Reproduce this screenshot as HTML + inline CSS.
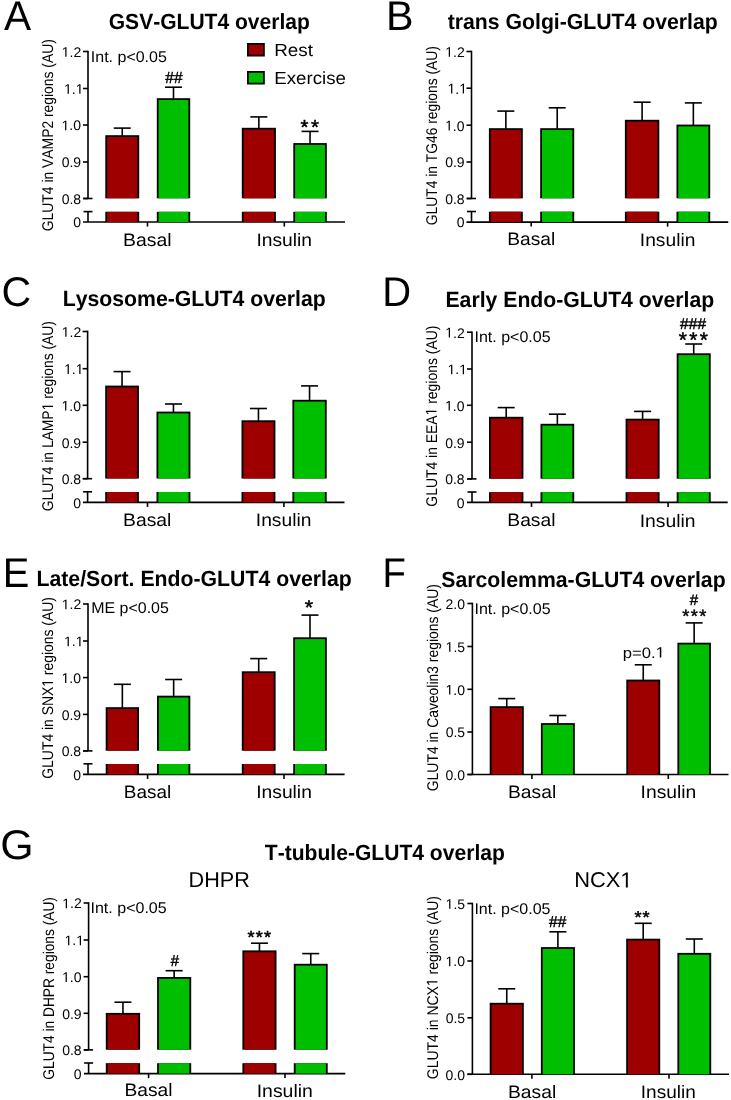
<!DOCTYPE html>
<html><head><meta charset="utf-8"><style>
html,body{margin:0;padding:0;background:#fff;}
svg{display:block;font-family:"Liberation Sans", sans-serif;will-change:transform;font-kerning:none;text-rendering:geometricPrecision;}
</style></head><body>
<svg width="731" height="1100" viewBox="0 0 731 1100">
<rect width="731" height="1100" fill="#fff"/>
<text x="3.92" y="30.00" font-size="41.5" textLength="27.16" lengthAdjust="spacingAndGlyphs">A</text>
<text x="108.74" y="28.90" font-size="22" font-weight="bold" textLength="201.13" lengthAdjust="spacingAndGlyphs">GSV-GLUT4 overlap</text>
<rect x="247.00" y="43.00" width="17.80" height="13.50" fill="#000"/>
<rect x="248.80" y="44.80" width="14.20" height="9.90" fill="#9e0000"/>
<rect x="247.00" y="71.00" width="17.80" height="13.50" fill="#000"/>
<rect x="248.80" y="72.80" width="14.20" height="9.90" fill="#00bf00"/>
<text x="274.25" y="55.80" font-size="17.5" textLength="38.79" lengthAdjust="spacingAndGlyphs">Rest</text>
<text x="274.27" y="84.10" font-size="17.5" textLength="71.66" lengthAdjust="spacingAndGlyphs">Exercise</text>
<g transform="translate(53.00,230.50) rotate(-90)">
<text x="-0.70" y="0.00" font-size="15.5" textLength="192.06" lengthAdjust="spacingAndGlyphs">GLUT4 in VAMP2 regions (AU)</text>
</g>
<line x1="88.00" y1="50.70" x2="88.00" y2="198.50" stroke="#000" stroke-width="1.6"/>
<line x1="83.00" y1="51.50" x2="88.00" y2="51.50" stroke="#000" stroke-width="1.6"/>
<text x="61.74" y="56.80" font-size="14" textLength="19.46" lengthAdjust="spacingAndGlyphs"> .2</text>
<path transform="translate(61.74,56.80) scale(0.00684,-0.00684)" d="M515,0L515,1237L197,1010L197,1180L530,1409L696,1409L696,0Z"/>
<line x1="83.00" y1="88.50" x2="88.00" y2="88.50" stroke="#000" stroke-width="1.6"/>
<text x="64.07" y="93.80" font-size="14" textLength="19.46" lengthAdjust="spacingAndGlyphs"> . </text>
<path transform="translate(64.07,93.80) scale(0.00684,-0.00684)" d="M515,0L515,1237L197,1010L197,1180L530,1409L696,1409L696,0Z"/>
<path transform="translate(75.74,93.80) scale(0.00684,-0.00684)" d="M515,0L515,1237L197,1010L197,1180L530,1409L696,1409L696,0Z"/>
<line x1="83.00" y1="125.00" x2="88.00" y2="125.00" stroke="#000" stroke-width="1.6"/>
<text x="61.58" y="130.30" font-size="14" textLength="19.46" lengthAdjust="spacingAndGlyphs"> .0</text>
<path transform="translate(61.58,130.30) scale(0.00684,-0.00684)" d="M515,0L515,1237L197,1010L197,1180L530,1409L696,1409L696,0Z"/>
<line x1="83.00" y1="162.00" x2="88.00" y2="162.00" stroke="#000" stroke-width="1.6"/>
<text x="61.70" y="167.30" font-size="14" textLength="19.46" lengthAdjust="spacingAndGlyphs">0.9</text>
<line x1="83.00" y1="198.50" x2="88.00" y2="198.50" stroke="#000" stroke-width="1.6"/>
<text x="61.65" y="203.80" font-size="14" textLength="19.46" lengthAdjust="spacingAndGlyphs">0.8</text>
<line x1="83.50" y1="198.50" x2="92.50" y2="198.50" stroke="#000" stroke-width="1.6"/>
<line x1="83.50" y1="211.60" x2="92.50" y2="211.60" stroke="#000" stroke-width="1.6"/>
<line x1="88.00" y1="211.60" x2="88.00" y2="222.00" stroke="#000" stroke-width="1.6"/>
<text x="73.26" y="227.30" font-size="14" textLength="7.79" lengthAdjust="spacingAndGlyphs">0</text>
<line x1="83.00" y1="222.00" x2="345.00" y2="222.00" stroke="#000" stroke-width="1.6"/>
<line x1="147.50" y1="222.00" x2="147.50" y2="226.50" stroke="#000" stroke-width="1.6"/>
<line x1="284.30" y1="222.00" x2="284.30" y2="226.50" stroke="#000" stroke-width="1.6"/>
<rect x="105.30" y="135.20" width="33.90" height="63.10" fill="#000"/>
<rect x="107.10" y="137.00" width="30.30" height="61.30" fill="#9e0000"/>
<rect x="105.30" y="211.80" width="33.90" height="10.20" fill="#000"/>
<rect x="107.10" y="211.80" width="30.30" height="10.20" fill="#9e0000"/>
<line x1="122.25" y1="135.70" x2="122.25" y2="128.10" stroke="#000" stroke-width="1.6"/>
<line x1="113.75" y1="128.10" x2="130.75" y2="128.10" stroke="#000" stroke-width="1.6"/>
<rect x="156.80" y="98.20" width="33.40" height="100.10" fill="#000"/>
<rect x="158.60" y="100.00" width="29.80" height="98.30" fill="#00bf00"/>
<rect x="156.80" y="211.80" width="33.40" height="10.20" fill="#000"/>
<rect x="158.60" y="211.80" width="29.80" height="10.20" fill="#00bf00"/>
<line x1="173.50" y1="98.70" x2="173.50" y2="87.20" stroke="#000" stroke-width="1.6"/>
<line x1="165.00" y1="87.20" x2="182.00" y2="87.20" stroke="#000" stroke-width="1.6"/>
<rect x="241.80" y="127.80" width="34.10" height="70.50" fill="#000"/>
<rect x="243.60" y="129.60" width="30.50" height="68.70" fill="#9e0000"/>
<rect x="241.80" y="211.80" width="34.10" height="10.20" fill="#000"/>
<rect x="243.60" y="211.80" width="30.50" height="10.20" fill="#9e0000"/>
<line x1="258.85" y1="128.30" x2="258.85" y2="116.90" stroke="#000" stroke-width="1.6"/>
<line x1="250.35" y1="116.90" x2="267.35" y2="116.90" stroke="#000" stroke-width="1.6"/>
<rect x="293.30" y="143.10" width="33.50" height="55.20" fill="#000"/>
<rect x="295.10" y="144.90" width="29.90" height="53.40" fill="#00bf00"/>
<rect x="293.30" y="211.80" width="33.50" height="10.20" fill="#000"/>
<rect x="295.10" y="211.80" width="29.90" height="10.20" fill="#00bf00"/>
<line x1="310.05" y1="143.60" x2="310.05" y2="131.40" stroke="#000" stroke-width="1.6"/>
<line x1="301.55" y1="131.40" x2="318.55" y2="131.40" stroke="#000" stroke-width="1.6"/>
<text x="123.11" y="245.50" font-size="18" textLength="48.49" lengthAdjust="spacingAndGlyphs">Basal</text>
<text x="256.42" y="245.80" font-size="18" textLength="55.63" lengthAdjust="spacingAndGlyphs">Insulin</text>
<text x="90.82" y="62.20" font-size="15.5" textLength="76.05" lengthAdjust="spacingAndGlyphs">Int. p&lt;0.05</text>
<text x="165.31" y="83.28" font-size="16.01" stroke="#000" stroke-width="0.45" textLength="8.59" lengthAdjust="spacingAndGlyphs">#</text>
<text x="174.11" y="83.28" font-size="16.01" stroke="#000" stroke-width="0.45" textLength="8.59" lengthAdjust="spacingAndGlyphs">#</text>
<text x="300.47" y="133.66" font-size="20.22" stroke="#000" stroke-width="0.5" textLength="7.95" lengthAdjust="spacingAndGlyphs">*</text>
<text x="310.97" y="133.66" font-size="20.22" stroke="#000" stroke-width="0.5" textLength="7.95" lengthAdjust="spacingAndGlyphs">*</text>
<text x="386.11" y="30.00" font-size="41.5" textLength="27.57" lengthAdjust="spacingAndGlyphs">B</text>
<text x="447.74" y="29.20" font-size="22" font-weight="bold" textLength="270.03" lengthAdjust="spacingAndGlyphs">trans Golgi-GLUT4 overlap</text>
<g transform="translate(436.80,224.50) rotate(-90)">
<text x="-0.70" y="0.00" font-size="15.5" textLength="179.05" lengthAdjust="spacingAndGlyphs">GLUT4 in TG46 regions (AU)</text>
</g>
<line x1="471.50" y1="50.70" x2="471.50" y2="198.50" stroke="#000" stroke-width="1.6"/>
<line x1="466.50" y1="51.50" x2="471.50" y2="51.50" stroke="#000" stroke-width="1.6"/>
<text x="445.24" y="56.80" font-size="14" textLength="19.46" lengthAdjust="spacingAndGlyphs"> .2</text>
<path transform="translate(445.24,56.80) scale(0.00684,-0.00684)" d="M515,0L515,1237L197,1010L197,1180L530,1409L696,1409L696,0Z"/>
<line x1="466.50" y1="88.20" x2="471.50" y2="88.20" stroke="#000" stroke-width="1.6"/>
<text x="447.57" y="93.50" font-size="14" textLength="19.46" lengthAdjust="spacingAndGlyphs"> . </text>
<path transform="translate(447.57,93.50) scale(0.00684,-0.00684)" d="M515,0L515,1237L197,1010L197,1180L530,1409L696,1409L696,0Z"/>
<path transform="translate(459.24,93.50) scale(0.00684,-0.00684)" d="M515,0L515,1237L197,1010L197,1180L530,1409L696,1409L696,0Z"/>
<line x1="466.50" y1="125.20" x2="471.50" y2="125.20" stroke="#000" stroke-width="1.6"/>
<text x="445.08" y="130.50" font-size="14" textLength="19.46" lengthAdjust="spacingAndGlyphs"> .0</text>
<path transform="translate(445.08,130.50) scale(0.00684,-0.00684)" d="M515,0L515,1237L197,1010L197,1180L530,1409L696,1409L696,0Z"/>
<line x1="466.50" y1="162.00" x2="471.50" y2="162.00" stroke="#000" stroke-width="1.6"/>
<text x="445.20" y="167.30" font-size="14" textLength="19.46" lengthAdjust="spacingAndGlyphs">0.9</text>
<line x1="466.50" y1="198.50" x2="471.50" y2="198.50" stroke="#000" stroke-width="1.6"/>
<text x="445.15" y="203.80" font-size="14" textLength="19.46" lengthAdjust="spacingAndGlyphs">0.8</text>
<line x1="467.00" y1="198.50" x2="476.00" y2="198.50" stroke="#000" stroke-width="1.6"/>
<line x1="467.00" y1="211.50" x2="476.00" y2="211.50" stroke="#000" stroke-width="1.6"/>
<line x1="471.50" y1="211.50" x2="471.50" y2="222.10" stroke="#000" stroke-width="1.6"/>
<text x="456.76" y="227.40" font-size="14" textLength="7.79" lengthAdjust="spacingAndGlyphs">0</text>
<line x1="466.50" y1="222.10" x2="728.30" y2="222.10" stroke="#000" stroke-width="1.6"/>
<line x1="531.20" y1="222.10" x2="531.20" y2="226.60" stroke="#000" stroke-width="1.6"/>
<line x1="667.60" y1="222.10" x2="667.60" y2="226.60" stroke="#000" stroke-width="1.6"/>
<rect x="488.90" y="128.20" width="33.90" height="70.10" fill="#000"/>
<rect x="490.70" y="130.00" width="30.30" height="68.30" fill="#9e0000"/>
<rect x="488.90" y="211.70" width="33.90" height="10.40" fill="#000"/>
<rect x="490.70" y="211.70" width="30.30" height="10.40" fill="#9e0000"/>
<line x1="505.85" y1="128.70" x2="505.85" y2="111.10" stroke="#000" stroke-width="1.6"/>
<line x1="497.35" y1="111.10" x2="514.35" y2="111.10" stroke="#000" stroke-width="1.6"/>
<rect x="540.20" y="128.20" width="34.00" height="70.10" fill="#000"/>
<rect x="542.00" y="130.00" width="30.40" height="68.30" fill="#00bf00"/>
<rect x="540.20" y="211.70" width="34.00" height="10.40" fill="#000"/>
<rect x="542.00" y="211.70" width="30.40" height="10.40" fill="#00bf00"/>
<line x1="557.20" y1="128.70" x2="557.20" y2="107.80" stroke="#000" stroke-width="1.6"/>
<line x1="548.70" y1="107.80" x2="565.70" y2="107.80" stroke="#000" stroke-width="1.6"/>
<rect x="624.90" y="119.80" width="34.40" height="78.50" fill="#000"/>
<rect x="626.70" y="121.60" width="30.80" height="76.70" fill="#9e0000"/>
<rect x="624.90" y="211.70" width="34.40" height="10.40" fill="#000"/>
<rect x="626.70" y="211.70" width="30.80" height="10.40" fill="#9e0000"/>
<line x1="642.10" y1="120.30" x2="642.10" y2="102.20" stroke="#000" stroke-width="1.6"/>
<line x1="633.60" y1="102.20" x2="650.60" y2="102.20" stroke="#000" stroke-width="1.6"/>
<rect x="676.50" y="124.60" width="33.70" height="73.70" fill="#000"/>
<rect x="678.30" y="126.40" width="30.10" height="71.90" fill="#00bf00"/>
<rect x="676.50" y="211.70" width="33.70" height="10.40" fill="#000"/>
<rect x="678.30" y="211.70" width="30.10" height="10.40" fill="#00bf00"/>
<line x1="693.35" y1="125.10" x2="693.35" y2="102.90" stroke="#000" stroke-width="1.6"/>
<line x1="684.85" y1="102.90" x2="701.85" y2="102.90" stroke="#000" stroke-width="1.6"/>
<text x="507.23" y="245.30" font-size="18" textLength="47.96" lengthAdjust="spacingAndGlyphs">Basal</text>
<text x="639.83" y="246.10" font-size="18" textLength="55.52" lengthAdjust="spacingAndGlyphs">Insulin</text>
<text x="1.52" y="306.00" font-size="41.5" textLength="29.65" lengthAdjust="spacingAndGlyphs">C</text>
<text x="62.78" y="306.40" font-size="22" font-weight="bold" textLength="262.99" lengthAdjust="spacingAndGlyphs">Lysosome-GLUT4 overlap</text>
<g transform="translate(53.00,510.50) rotate(-90)">
<text x="-0.70" y="0.00" font-size="15.5" textLength="190.05" lengthAdjust="spacingAndGlyphs">GLUT4 in LAMP  regions (AU)</text>
<path transform="translate(100.10,0.00) scale(0.00676,-0.00757)" d="M515,0L515,1237L197,1010L197,1180L530,1409L696,1409L696,0Z"/>
</g>
<line x1="87.60" y1="330.70" x2="87.60" y2="478.70" stroke="#000" stroke-width="1.6"/>
<line x1="82.60" y1="331.50" x2="87.60" y2="331.50" stroke="#000" stroke-width="1.6"/>
<text x="61.74" y="336.80" font-size="14" textLength="19.46" lengthAdjust="spacingAndGlyphs"> .2</text>
<path transform="translate(61.74,336.80) scale(0.00684,-0.00684)" d="M515,0L515,1237L197,1010L197,1180L530,1409L696,1409L696,0Z"/>
<line x1="82.60" y1="368.70" x2="87.60" y2="368.70" stroke="#000" stroke-width="1.6"/>
<text x="64.07" y="374.00" font-size="14" textLength="19.46" lengthAdjust="spacingAndGlyphs"> . </text>
<path transform="translate(64.07,374.00) scale(0.00684,-0.00684)" d="M515,0L515,1237L197,1010L197,1180L530,1409L696,1409L696,0Z"/>
<path transform="translate(75.74,374.00) scale(0.00684,-0.00684)" d="M515,0L515,1237L197,1010L197,1180L530,1409L696,1409L696,0Z"/>
<line x1="82.60" y1="405.30" x2="87.60" y2="405.30" stroke="#000" stroke-width="1.6"/>
<text x="61.58" y="410.60" font-size="14" textLength="19.46" lengthAdjust="spacingAndGlyphs"> .0</text>
<path transform="translate(61.58,410.60) scale(0.00684,-0.00684)" d="M515,0L515,1237L197,1010L197,1180L530,1409L696,1409L696,0Z"/>
<line x1="82.60" y1="442.20" x2="87.60" y2="442.20" stroke="#000" stroke-width="1.6"/>
<text x="61.70" y="447.50" font-size="14" textLength="19.46" lengthAdjust="spacingAndGlyphs">0.9</text>
<line x1="82.60" y1="478.70" x2="87.60" y2="478.70" stroke="#000" stroke-width="1.6"/>
<text x="61.65" y="484.00" font-size="14" textLength="19.46" lengthAdjust="spacingAndGlyphs">0.8</text>
<line x1="83.10" y1="478.70" x2="92.10" y2="478.70" stroke="#000" stroke-width="1.6"/>
<line x1="83.10" y1="491.80" x2="92.10" y2="491.80" stroke="#000" stroke-width="1.6"/>
<line x1="87.60" y1="491.80" x2="87.60" y2="502.40" stroke="#000" stroke-width="1.6"/>
<text x="73.26" y="507.70" font-size="14" textLength="7.79" lengthAdjust="spacingAndGlyphs">0</text>
<line x1="83.00" y1="502.40" x2="344.50" y2="502.40" stroke="#000" stroke-width="1.6"/>
<line x1="147.50" y1="502.40" x2="147.50" y2="506.90" stroke="#000" stroke-width="1.6"/>
<line x1="283.90" y1="502.40" x2="283.90" y2="506.90" stroke="#000" stroke-width="1.6"/>
<rect x="105.20" y="385.60" width="33.70" height="92.90" fill="#000"/>
<rect x="107.00" y="387.40" width="30.10" height="91.10" fill="#9e0000"/>
<rect x="105.20" y="492.00" width="33.70" height="10.40" fill="#000"/>
<rect x="107.00" y="492.00" width="30.10" height="10.40" fill="#9e0000"/>
<line x1="122.05" y1="386.10" x2="122.05" y2="371.60" stroke="#000" stroke-width="1.6"/>
<line x1="113.55" y1="371.60" x2="130.55" y2="371.60" stroke="#000" stroke-width="1.6"/>
<rect x="156.50" y="411.60" width="33.90" height="66.90" fill="#000"/>
<rect x="158.30" y="413.40" width="30.30" height="65.10" fill="#00bf00"/>
<rect x="156.50" y="492.00" width="33.90" height="10.40" fill="#000"/>
<rect x="158.30" y="492.00" width="30.30" height="10.40" fill="#00bf00"/>
<line x1="173.45" y1="412.10" x2="173.45" y2="404.00" stroke="#000" stroke-width="1.6"/>
<line x1="164.95" y1="404.00" x2="181.95" y2="404.00" stroke="#000" stroke-width="1.6"/>
<rect x="241.50" y="420.30" width="33.90" height="58.20" fill="#000"/>
<rect x="243.30" y="422.10" width="30.30" height="56.40" fill="#9e0000"/>
<rect x="241.50" y="492.00" width="33.90" height="10.40" fill="#000"/>
<rect x="243.30" y="492.00" width="30.30" height="10.40" fill="#9e0000"/>
<line x1="258.45" y1="420.80" x2="258.45" y2="408.50" stroke="#000" stroke-width="1.6"/>
<line x1="249.95" y1="408.50" x2="266.95" y2="408.50" stroke="#000" stroke-width="1.6"/>
<rect x="292.40" y="399.80" width="34.30" height="78.70" fill="#000"/>
<rect x="294.20" y="401.60" width="30.70" height="76.90" fill="#00bf00"/>
<rect x="292.40" y="492.00" width="34.30" height="10.40" fill="#000"/>
<rect x="294.20" y="492.00" width="30.70" height="10.40" fill="#00bf00"/>
<line x1="309.55" y1="400.30" x2="309.55" y2="385.90" stroke="#000" stroke-width="1.6"/>
<line x1="301.05" y1="385.90" x2="318.05" y2="385.90" stroke="#000" stroke-width="1.6"/>
<text x="123.12" y="526.00" font-size="18" textLength="48.27" lengthAdjust="spacingAndGlyphs">Basal</text>
<text x="255.82" y="526.20" font-size="18" textLength="55.63" lengthAdjust="spacingAndGlyphs">Insulin</text>
<text x="382.32" y="306.30" font-size="41.5" textLength="28.90" lengthAdjust="spacingAndGlyphs">D</text>
<text x="445.48" y="306.70" font-size="22" font-weight="bold" textLength="268.79" lengthAdjust="spacingAndGlyphs">Early Endo-GLUT4 overlap</text>
<g transform="translate(436.50,506.00) rotate(-90)">
<text x="-0.70" y="0.00" font-size="15.5" textLength="181.06" lengthAdjust="spacingAndGlyphs">GLUT4 in EEA  regions (AU)</text>
<path transform="translate(90.61,0.00) scale(0.00680,-0.00757)" d="M515,0L515,1237L197,1010L197,1180L530,1409L696,1409L696,0Z"/>
</g>
<line x1="472.00" y1="331.40" x2="472.00" y2="478.90" stroke="#000" stroke-width="1.6"/>
<line x1="467.00" y1="332.20" x2="472.00" y2="332.20" stroke="#000" stroke-width="1.6"/>
<text x="445.24" y="337.50" font-size="14" textLength="19.46" lengthAdjust="spacingAndGlyphs"> .2</text>
<path transform="translate(445.24,337.50) scale(0.00684,-0.00684)" d="M515,0L515,1237L197,1010L197,1180L530,1409L696,1409L696,0Z"/>
<line x1="467.00" y1="369.00" x2="472.00" y2="369.00" stroke="#000" stroke-width="1.6"/>
<text x="447.57" y="374.30" font-size="14" textLength="19.46" lengthAdjust="spacingAndGlyphs"> . </text>
<path transform="translate(447.57,374.30) scale(0.00684,-0.00684)" d="M515,0L515,1237L197,1010L197,1180L530,1409L696,1409L696,0Z"/>
<path transform="translate(459.24,374.30) scale(0.00684,-0.00684)" d="M515,0L515,1237L197,1010L197,1180L530,1409L696,1409L696,0Z"/>
<line x1="467.00" y1="405.30" x2="472.00" y2="405.30" stroke="#000" stroke-width="1.6"/>
<text x="445.08" y="410.60" font-size="14" textLength="19.46" lengthAdjust="spacingAndGlyphs"> .0</text>
<path transform="translate(445.08,410.60) scale(0.00684,-0.00684)" d="M515,0L515,1237L197,1010L197,1180L530,1409L696,1409L696,0Z"/>
<line x1="467.00" y1="442.20" x2="472.00" y2="442.20" stroke="#000" stroke-width="1.6"/>
<text x="445.20" y="447.50" font-size="14" textLength="19.46" lengthAdjust="spacingAndGlyphs">0.9</text>
<line x1="467.00" y1="478.90" x2="472.00" y2="478.90" stroke="#000" stroke-width="1.6"/>
<text x="445.15" y="484.20" font-size="14" textLength="19.46" lengthAdjust="spacingAndGlyphs">0.8</text>
<line x1="467.50" y1="478.90" x2="476.50" y2="478.90" stroke="#000" stroke-width="1.6"/>
<line x1="467.50" y1="492.00" x2="476.50" y2="492.00" stroke="#000" stroke-width="1.6"/>
<line x1="472.00" y1="492.00" x2="472.00" y2="502.40" stroke="#000" stroke-width="1.6"/>
<text x="456.76" y="507.70" font-size="14" textLength="7.79" lengthAdjust="spacingAndGlyphs">0</text>
<line x1="467.00" y1="502.40" x2="727.70" y2="502.40" stroke="#000" stroke-width="1.6"/>
<line x1="531.50" y1="502.40" x2="531.50" y2="506.90" stroke="#000" stroke-width="1.6"/>
<line x1="668.10" y1="502.40" x2="668.10" y2="506.90" stroke="#000" stroke-width="1.6"/>
<rect x="489.00" y="416.80" width="34.40" height="61.90" fill="#000"/>
<rect x="490.80" y="418.60" width="30.80" height="60.10" fill="#9e0000"/>
<rect x="489.00" y="492.20" width="34.40" height="10.20" fill="#000"/>
<rect x="490.80" y="492.20" width="30.80" height="10.20" fill="#9e0000"/>
<line x1="506.20" y1="417.30" x2="506.20" y2="407.60" stroke="#000" stroke-width="1.6"/>
<line x1="497.70" y1="407.60" x2="514.70" y2="407.60" stroke="#000" stroke-width="1.6"/>
<rect x="540.50" y="423.80" width="33.70" height="54.90" fill="#000"/>
<rect x="542.30" y="425.60" width="30.10" height="53.10" fill="#00bf00"/>
<rect x="540.50" y="492.20" width="33.70" height="10.20" fill="#000"/>
<rect x="542.30" y="492.20" width="30.10" height="10.20" fill="#00bf00"/>
<line x1="557.35" y1="424.30" x2="557.35" y2="414.20" stroke="#000" stroke-width="1.6"/>
<line x1="548.85" y1="414.20" x2="565.85" y2="414.20" stroke="#000" stroke-width="1.6"/>
<rect x="625.60" y="418.70" width="34.00" height="60.00" fill="#000"/>
<rect x="627.40" y="420.50" width="30.40" height="58.20" fill="#9e0000"/>
<rect x="625.60" y="492.20" width="34.00" height="10.20" fill="#000"/>
<rect x="627.40" y="492.20" width="30.40" height="10.20" fill="#9e0000"/>
<line x1="642.60" y1="419.20" x2="642.60" y2="411.40" stroke="#000" stroke-width="1.6"/>
<line x1="634.10" y1="411.40" x2="651.10" y2="411.40" stroke="#000" stroke-width="1.6"/>
<rect x="676.70" y="353.30" width="34.00" height="125.40" fill="#000"/>
<rect x="678.50" y="355.10" width="30.40" height="123.60" fill="#00bf00"/>
<rect x="676.70" y="492.20" width="34.00" height="10.20" fill="#000"/>
<rect x="678.50" y="492.20" width="30.40" height="10.20" fill="#00bf00"/>
<line x1="693.70" y1="353.80" x2="693.70" y2="344.00" stroke="#000" stroke-width="1.6"/>
<line x1="685.20" y1="344.00" x2="702.20" y2="344.00" stroke="#000" stroke-width="1.6"/>
<text x="507.32" y="526.30" font-size="18" textLength="48.17" lengthAdjust="spacingAndGlyphs">Basal</text>
<text x="639.72" y="526.50" font-size="18" textLength="55.84" lengthAdjust="spacingAndGlyphs">Insulin</text>
<text x="474.52" y="341.50" font-size="15.5" textLength="76.05" lengthAdjust="spacingAndGlyphs">Int. p&lt;0.05</text>
<text x="679.91" y="328.88" font-size="15.57" stroke="#000" stroke-width="0.45" textLength="8.59" lengthAdjust="spacingAndGlyphs">#</text>
<text x="688.71" y="328.88" font-size="15.57" stroke="#000" stroke-width="0.45" textLength="8.59" lengthAdjust="spacingAndGlyphs">#</text>
<text x="697.51" y="328.88" font-size="15.57" stroke="#000" stroke-width="0.45" textLength="8.59" lengthAdjust="spacingAndGlyphs">#</text>
<text x="678.81" y="346.85" font-size="21.08" stroke="#000" stroke-width="0.5" textLength="8.17" lengthAdjust="spacingAndGlyphs">*</text>
<text x="689.31" y="346.85" font-size="21.08" stroke="#000" stroke-width="0.5" textLength="8.17" lengthAdjust="spacingAndGlyphs">*</text>
<text x="699.81" y="346.85" font-size="21.08" stroke="#000" stroke-width="0.5" textLength="8.17" lengthAdjust="spacingAndGlyphs">*</text>
<text x="2.73" y="587.00" font-size="41.5" textLength="26.58" lengthAdjust="spacingAndGlyphs">E</text>
<text x="36.48" y="586.40" font-size="22" font-weight="bold" textLength="315.29" lengthAdjust="spacingAndGlyphs">Late/Sort. Endo-GLUT4 overlap</text>
<g transform="translate(53.00,778.00) rotate(-90)">
<text x="-0.70" y="0.00" font-size="15.5" textLength="181.56" lengthAdjust="spacingAndGlyphs">GLUT4 in SNX  regions (AU)</text>
<path transform="translate(91.24,0.00) scale(0.00679,-0.00757)" d="M515,0L515,1237L197,1010L197,1180L530,1409L696,1409L696,0Z"/>
</g>
<line x1="88.00" y1="603.20" x2="88.00" y2="750.90" stroke="#000" stroke-width="1.6"/>
<line x1="83.00" y1="604.00" x2="88.00" y2="604.00" stroke="#000" stroke-width="1.6"/>
<text x="61.74" y="609.30" font-size="14" textLength="19.46" lengthAdjust="spacingAndGlyphs"> .2</text>
<path transform="translate(61.74,609.30) scale(0.00684,-0.00684)" d="M515,0L515,1237L197,1010L197,1180L530,1409L696,1409L696,0Z"/>
<line x1="83.00" y1="641.00" x2="88.00" y2="641.00" stroke="#000" stroke-width="1.6"/>
<text x="64.07" y="646.30" font-size="14" textLength="19.46" lengthAdjust="spacingAndGlyphs"> . </text>
<path transform="translate(64.07,646.30) scale(0.00684,-0.00684)" d="M515,0L515,1237L197,1010L197,1180L530,1409L696,1409L696,0Z"/>
<path transform="translate(75.74,646.30) scale(0.00684,-0.00684)" d="M515,0L515,1237L197,1010L197,1180L530,1409L696,1409L696,0Z"/>
<line x1="83.00" y1="677.60" x2="88.00" y2="677.60" stroke="#000" stroke-width="1.6"/>
<text x="61.58" y="682.90" font-size="14" textLength="19.46" lengthAdjust="spacingAndGlyphs"> .0</text>
<path transform="translate(61.58,682.90) scale(0.00684,-0.00684)" d="M515,0L515,1237L197,1010L197,1180L530,1409L696,1409L696,0Z"/>
<line x1="83.00" y1="714.40" x2="88.00" y2="714.40" stroke="#000" stroke-width="1.6"/>
<text x="61.70" y="719.70" font-size="14" textLength="19.46" lengthAdjust="spacingAndGlyphs">0.9</text>
<line x1="83.00" y1="750.90" x2="88.00" y2="750.90" stroke="#000" stroke-width="1.6"/>
<text x="61.65" y="756.20" font-size="14" textLength="19.46" lengthAdjust="spacingAndGlyphs">0.8</text>
<line x1="83.50" y1="750.90" x2="92.50" y2="750.90" stroke="#000" stroke-width="1.6"/>
<line x1="83.50" y1="763.80" x2="92.50" y2="763.80" stroke="#000" stroke-width="1.6"/>
<line x1="88.00" y1="763.80" x2="88.00" y2="774.40" stroke="#000" stroke-width="1.6"/>
<text x="73.26" y="779.70" font-size="14" textLength="7.79" lengthAdjust="spacingAndGlyphs">0</text>
<line x1="83.00" y1="774.40" x2="344.60" y2="774.40" stroke="#000" stroke-width="1.6"/>
<line x1="147.60" y1="774.40" x2="147.60" y2="778.90" stroke="#000" stroke-width="1.6"/>
<line x1="284.00" y1="774.40" x2="284.00" y2="778.90" stroke="#000" stroke-width="1.6"/>
<rect x="105.70" y="707.20" width="33.30" height="43.50" fill="#000"/>
<rect x="107.50" y="709.00" width="29.70" height="41.70" fill="#9e0000"/>
<rect x="105.70" y="764.00" width="33.30" height="10.40" fill="#000"/>
<rect x="107.50" y="764.00" width="29.70" height="10.40" fill="#9e0000"/>
<line x1="122.35" y1="707.70" x2="122.35" y2="684.30" stroke="#000" stroke-width="1.6"/>
<line x1="113.85" y1="684.30" x2="130.85" y2="684.30" stroke="#000" stroke-width="1.6"/>
<rect x="157.00" y="695.70" width="33.30" height="55.00" fill="#000"/>
<rect x="158.80" y="697.50" width="29.70" height="53.20" fill="#00bf00"/>
<rect x="157.00" y="764.00" width="33.30" height="10.40" fill="#000"/>
<rect x="158.80" y="764.00" width="29.70" height="10.40" fill="#00bf00"/>
<line x1="173.65" y1="696.20" x2="173.65" y2="679.50" stroke="#000" stroke-width="1.6"/>
<line x1="165.15" y1="679.50" x2="182.15" y2="679.50" stroke="#000" stroke-width="1.6"/>
<rect x="241.80" y="671.30" width="33.80" height="79.40" fill="#000"/>
<rect x="243.60" y="673.10" width="30.20" height="77.60" fill="#9e0000"/>
<rect x="241.80" y="764.00" width="33.80" height="10.40" fill="#000"/>
<rect x="243.60" y="764.00" width="30.20" height="10.40" fill="#9e0000"/>
<line x1="258.70" y1="671.80" x2="258.70" y2="658.60" stroke="#000" stroke-width="1.6"/>
<line x1="250.20" y1="658.60" x2="267.20" y2="658.60" stroke="#000" stroke-width="1.6"/>
<rect x="293.20" y="637.30" width="33.60" height="113.40" fill="#000"/>
<rect x="295.00" y="639.10" width="30.00" height="111.60" fill="#00bf00"/>
<rect x="293.20" y="764.00" width="33.60" height="10.40" fill="#000"/>
<rect x="295.00" y="764.00" width="30.00" height="10.40" fill="#00bf00"/>
<line x1="310.00" y1="637.80" x2="310.00" y2="615.10" stroke="#000" stroke-width="1.6"/>
<line x1="301.50" y1="615.10" x2="318.50" y2="615.10" stroke="#000" stroke-width="1.6"/>
<text x="123.84" y="798.00" font-size="18" textLength="47.42" lengthAdjust="spacingAndGlyphs">Basal</text>
<text x="256.22" y="798.10" font-size="18" textLength="55.63" lengthAdjust="spacingAndGlyphs">Insulin</text>
<text x="91.19" y="613.20" font-size="15.5" textLength="77.68" lengthAdjust="spacingAndGlyphs">ME p&lt;0.05</text>
<text x="304.70" y="613.87" font-size="19.65" stroke="#000" stroke-width="0.5" textLength="8.38" lengthAdjust="spacingAndGlyphs">*</text>
<text x="382.46" y="587.00" font-size="41.5" textLength="23.37" lengthAdjust="spacingAndGlyphs">F</text>
<text x="441.29" y="586.70" font-size="22" font-weight="bold" textLength="284.38" lengthAdjust="spacingAndGlyphs">Sarcolemma-GLUT4 overlap</text>
<g transform="translate(437.50,790.50) rotate(-90)">
<text x="-0.70" y="0.00" font-size="15.5" textLength="207.06" lengthAdjust="spacingAndGlyphs">GLUT4 in Caveolin3 regions (AU)</text>
</g>
<line x1="472.40" y1="602.70" x2="472.40" y2="774.50" stroke="#000" stroke-width="1.6"/>
<line x1="467.40" y1="603.50" x2="472.40" y2="603.50" stroke="#000" stroke-width="1.6"/>
<text x="445.58" y="608.80" font-size="14" textLength="19.46" lengthAdjust="spacingAndGlyphs">2.0</text>
<line x1="467.40" y1="646.50" x2="472.40" y2="646.50" stroke="#000" stroke-width="1.6"/>
<text x="445.63" y="651.80" font-size="14" textLength="19.46" lengthAdjust="spacingAndGlyphs"> .5</text>
<path transform="translate(445.63,651.80) scale(0.00684,-0.00684)" d="M515,0L515,1237L197,1010L197,1180L530,1409L696,1409L696,0Z"/>
<line x1="467.40" y1="689.30" x2="472.40" y2="689.30" stroke="#000" stroke-width="1.6"/>
<text x="445.58" y="694.60" font-size="14" textLength="19.46" lengthAdjust="spacingAndGlyphs"> .0</text>
<path transform="translate(445.58,694.60) scale(0.00684,-0.00684)" d="M515,0L515,1237L197,1010L197,1180L530,1409L696,1409L696,0Z"/>
<line x1="467.40" y1="732.00" x2="472.40" y2="732.00" stroke="#000" stroke-width="1.6"/>
<text x="445.63" y="737.30" font-size="14" textLength="19.46" lengthAdjust="spacingAndGlyphs">0.5</text>
<line x1="467.40" y1="774.50" x2="472.40" y2="774.50" stroke="#000" stroke-width="1.6"/>
<text x="445.58" y="779.80" font-size="14" textLength="19.46" lengthAdjust="spacingAndGlyphs">0.0</text>
<line x1="467.40" y1="774.50" x2="728.50" y2="774.50" stroke="#000" stroke-width="1.6"/>
<line x1="531.90" y1="774.50" x2="531.90" y2="779.00" stroke="#000" stroke-width="1.6"/>
<line x1="668.30" y1="774.50" x2="668.30" y2="779.00" stroke="#000" stroke-width="1.6"/>
<rect x="489.70" y="706.20" width="34.10" height="68.30" fill="#000"/>
<rect x="491.50" y="708.00" width="30.50" height="66.50" fill="#9e0000"/>
<line x1="506.75" y1="706.70" x2="506.75" y2="698.60" stroke="#000" stroke-width="1.6"/>
<line x1="498.25" y1="698.60" x2="515.25" y2="698.60" stroke="#000" stroke-width="1.6"/>
<rect x="540.90" y="723.10" width="33.90" height="51.40" fill="#000"/>
<rect x="542.70" y="724.90" width="30.30" height="49.60" fill="#00bf00"/>
<line x1="557.85" y1="723.60" x2="557.85" y2="715.50" stroke="#000" stroke-width="1.6"/>
<line x1="549.35" y1="715.50" x2="566.35" y2="715.50" stroke="#000" stroke-width="1.6"/>
<rect x="626.30" y="679.60" width="33.90" height="94.90" fill="#000"/>
<rect x="628.10" y="681.40" width="30.30" height="93.10" fill="#9e0000"/>
<line x1="643.25" y1="680.10" x2="643.25" y2="664.80" stroke="#000" stroke-width="1.6"/>
<line x1="634.75" y1="664.80" x2="651.75" y2="664.80" stroke="#000" stroke-width="1.6"/>
<rect x="677.40" y="642.70" width="33.50" height="131.80" fill="#000"/>
<rect x="679.20" y="644.50" width="29.90" height="130.00" fill="#00bf00"/>
<line x1="694.15" y1="643.20" x2="694.15" y2="622.90" stroke="#000" stroke-width="1.6"/>
<line x1="685.65" y1="622.90" x2="702.65" y2="622.90" stroke="#000" stroke-width="1.6"/>
<text x="508.02" y="798.00" font-size="18" textLength="48.17" lengthAdjust="spacingAndGlyphs">Basal</text>
<text x="640.62" y="797.80" font-size="18" textLength="55.73" lengthAdjust="spacingAndGlyphs">Insulin</text>
<text x="474.52" y="613.50" font-size="15.5" textLength="76.05" lengthAdjust="spacingAndGlyphs">Int. p&lt;0.05</text>
<text x="622.73" y="657.60" font-size="15" textLength="42.18" lengthAdjust="spacingAndGlyphs">p=0. </text>
<path transform="translate(655.63,657.60) scale(0.00814,-0.00732)" d="M515,0L515,1237L197,1010L197,1180L530,1409L696,1409L696,0Z"/>
<text x="689.81" y="604.77" font-size="15.13" stroke="#000" stroke-width="0.45" textLength="8.39" lengthAdjust="spacingAndGlyphs">#</text>
<text x="682.16" y="621.90" font-size="17.66" stroke="#000" stroke-width="0.5" textLength="7.08" lengthAdjust="spacingAndGlyphs">*</text>
<text x="690.66" y="621.90" font-size="17.66" stroke="#000" stroke-width="0.5" textLength="7.08" lengthAdjust="spacingAndGlyphs">*</text>
<text x="699.16" y="621.90" font-size="17.66" stroke="#000" stroke-width="0.5" textLength="7.08" lengthAdjust="spacingAndGlyphs">*</text>
<text x="0.24" y="859.10" font-size="41.5" textLength="33.36" lengthAdjust="spacingAndGlyphs">G</text>
<text x="264.76" y="860.10" font-size="22" font-weight="bold" textLength="240.10" lengthAdjust="spacingAndGlyphs">T-tubule-GLUT4 overlap</text>
<text x="188.63" y="887.40" font-size="21.5" textLength="61.28" lengthAdjust="spacingAndGlyphs">DHPR</text>
<text x="574.21" y="887.40" font-size="21.5" textLength="58.32" lengthAdjust="spacingAndGlyphs">NCX </text>
<path transform="translate(620.37,887.40) scale(0.01068,-0.01050)" d="M515,0L515,1237L197,1010L197,1180L530,1409L696,1409L696,0Z"/>
<g transform="translate(53.50,1079.00) rotate(-90)">
<text x="-0.69" y="0.00" font-size="15.5" textLength="182.64" lengthAdjust="spacingAndGlyphs">GLUT4 in DHPR regions (AU)</text>
</g>
<line x1="88.60" y1="902.20" x2="88.60" y2="1049.90" stroke="#000" stroke-width="1.6"/>
<line x1="83.60" y1="903.00" x2="88.60" y2="903.00" stroke="#000" stroke-width="1.6"/>
<text x="62.24" y="908.30" font-size="14" textLength="19.46" lengthAdjust="spacingAndGlyphs"> .2</text>
<path transform="translate(62.24,908.30) scale(0.00684,-0.00684)" d="M515,0L515,1237L197,1010L197,1180L530,1409L696,1409L696,0Z"/>
<line x1="83.60" y1="940.00" x2="88.60" y2="940.00" stroke="#000" stroke-width="1.6"/>
<text x="64.57" y="945.30" font-size="14" textLength="19.46" lengthAdjust="spacingAndGlyphs"> . </text>
<path transform="translate(64.57,945.30) scale(0.00684,-0.00684)" d="M515,0L515,1237L197,1010L197,1180L530,1409L696,1409L696,0Z"/>
<path transform="translate(76.24,945.30) scale(0.00684,-0.00684)" d="M515,0L515,1237L197,1010L197,1180L530,1409L696,1409L696,0Z"/>
<line x1="83.60" y1="976.70" x2="88.60" y2="976.70" stroke="#000" stroke-width="1.6"/>
<text x="62.08" y="982.00" font-size="14" textLength="19.46" lengthAdjust="spacingAndGlyphs"> .0</text>
<path transform="translate(62.08,982.00) scale(0.00684,-0.00684)" d="M515,0L515,1237L197,1010L197,1180L530,1409L696,1409L696,0Z"/>
<line x1="83.60" y1="1013.30" x2="88.60" y2="1013.30" stroke="#000" stroke-width="1.6"/>
<text x="62.20" y="1018.60" font-size="14" textLength="19.46" lengthAdjust="spacingAndGlyphs">0.9</text>
<line x1="83.60" y1="1049.90" x2="88.60" y2="1049.90" stroke="#000" stroke-width="1.6"/>
<text x="62.15" y="1055.20" font-size="14" textLength="19.46" lengthAdjust="spacingAndGlyphs">0.8</text>
<line x1="84.10" y1="1049.90" x2="93.10" y2="1049.90" stroke="#000" stroke-width="1.6"/>
<line x1="84.10" y1="1063.00" x2="93.10" y2="1063.00" stroke="#000" stroke-width="1.6"/>
<line x1="88.60" y1="1063.00" x2="88.60" y2="1073.60" stroke="#000" stroke-width="1.6"/>
<text x="73.76" y="1078.90" font-size="14" textLength="7.79" lengthAdjust="spacingAndGlyphs">0</text>
<line x1="84.00" y1="1073.60" x2="345.30" y2="1073.60" stroke="#000" stroke-width="1.6"/>
<line x1="148.60" y1="1073.60" x2="148.60" y2="1078.10" stroke="#000" stroke-width="1.6"/>
<line x1="285.00" y1="1073.60" x2="285.00" y2="1078.10" stroke="#000" stroke-width="1.6"/>
<rect x="105.80" y="1012.90" width="34.30" height="36.80" fill="#000"/>
<rect x="107.60" y="1014.70" width="30.70" height="35.00" fill="#9e0000"/>
<rect x="105.80" y="1063.20" width="34.30" height="10.40" fill="#000"/>
<rect x="107.60" y="1063.20" width="30.70" height="10.40" fill="#9e0000"/>
<line x1="122.95" y1="1013.40" x2="122.95" y2="1002.20" stroke="#000" stroke-width="1.6"/>
<line x1="114.45" y1="1002.20" x2="131.45" y2="1002.20" stroke="#000" stroke-width="1.6"/>
<rect x="157.10" y="977.00" width="34.10" height="72.70" fill="#000"/>
<rect x="158.90" y="978.80" width="30.50" height="70.90" fill="#00bf00"/>
<rect x="157.10" y="1063.20" width="34.10" height="10.40" fill="#000"/>
<rect x="158.90" y="1063.20" width="30.50" height="10.40" fill="#00bf00"/>
<line x1="174.15" y1="977.50" x2="174.15" y2="970.70" stroke="#000" stroke-width="1.6"/>
<line x1="165.65" y1="970.70" x2="182.65" y2="970.70" stroke="#000" stroke-width="1.6"/>
<rect x="242.40" y="950.40" width="34.10" height="99.30" fill="#000"/>
<rect x="244.20" y="952.20" width="30.50" height="97.50" fill="#9e0000"/>
<rect x="242.40" y="1063.20" width="34.10" height="10.40" fill="#000"/>
<rect x="244.20" y="1063.20" width="30.50" height="10.40" fill="#9e0000"/>
<line x1="259.45" y1="950.90" x2="259.45" y2="943.20" stroke="#000" stroke-width="1.6"/>
<line x1="250.95" y1="943.20" x2="267.95" y2="943.20" stroke="#000" stroke-width="1.6"/>
<rect x="293.80" y="963.80" width="33.90" height="85.90" fill="#000"/>
<rect x="295.60" y="965.60" width="30.30" height="84.10" fill="#00bf00"/>
<rect x="293.80" y="1063.20" width="33.90" height="10.40" fill="#000"/>
<rect x="295.60" y="1063.20" width="30.30" height="10.40" fill="#00bf00"/>
<line x1="310.75" y1="964.30" x2="310.75" y2="953.60" stroke="#000" stroke-width="1.6"/>
<line x1="302.25" y1="953.60" x2="319.25" y2="953.60" stroke="#000" stroke-width="1.6"/>
<text x="124.53" y="1095.80" font-size="18" textLength="47.96" lengthAdjust="spacingAndGlyphs">Basal</text>
<text x="256.71" y="1097.40" font-size="18" textLength="56.15" lengthAdjust="spacingAndGlyphs">Insulin</text>
<text x="90.52" y="913.00" font-size="15.5" textLength="76.15" lengthAdjust="spacingAndGlyphs">Int. p&lt;0.05</text>
<text x="170.66" y="965.77" font-size="15.71" stroke="#000" stroke-width="0.45" textLength="8.29" lengthAdjust="spacingAndGlyphs">#</text>
<text x="247.41" y="943.40" font-size="17.38" stroke="#000" stroke-width="0.5" textLength="7.08" lengthAdjust="spacingAndGlyphs">*</text>
<text x="255.76" y="943.40" font-size="17.38" stroke="#000" stroke-width="0.5" textLength="7.08" lengthAdjust="spacingAndGlyphs">*</text>
<text x="264.11" y="943.40" font-size="17.38" stroke="#000" stroke-width="0.5" textLength="7.08" lengthAdjust="spacingAndGlyphs">*</text>
<g transform="translate(437.50,1078.50) rotate(-90)">
<text x="-0.70" y="0.00" font-size="15.5" textLength="183.07" lengthAdjust="spacingAndGlyphs">GLUT4 in NCX  regions (AU)</text>
<path transform="translate(92.38,0.00) scale(0.00682,-0.00757)" d="M515,0L515,1237L197,1010L197,1180L530,1409L696,1409L696,0Z"/>
</g>
<line x1="472.40" y1="902.70" x2="472.40" y2="1074.30" stroke="#000" stroke-width="1.6"/>
<line x1="467.40" y1="903.50" x2="472.40" y2="903.50" stroke="#000" stroke-width="1.6"/>
<text x="445.63" y="908.80" font-size="14" textLength="19.46" lengthAdjust="spacingAndGlyphs"> .5</text>
<path transform="translate(445.63,908.80) scale(0.00684,-0.00684)" d="M515,0L515,1237L197,1010L197,1180L530,1409L696,1409L696,0Z"/>
<line x1="467.40" y1="961.00" x2="472.40" y2="961.00" stroke="#000" stroke-width="1.6"/>
<text x="445.58" y="966.30" font-size="14" textLength="19.46" lengthAdjust="spacingAndGlyphs"> .0</text>
<path transform="translate(445.58,966.30) scale(0.00684,-0.00684)" d="M515,0L515,1237L197,1010L197,1180L530,1409L696,1409L696,0Z"/>
<line x1="467.40" y1="1017.80" x2="472.40" y2="1017.80" stroke="#000" stroke-width="1.6"/>
<text x="445.63" y="1023.10" font-size="14" textLength="19.46" lengthAdjust="spacingAndGlyphs">0.5</text>
<line x1="467.40" y1="1074.30" x2="472.40" y2="1074.30" stroke="#000" stroke-width="1.6"/>
<text x="445.58" y="1079.60" font-size="14" textLength="19.46" lengthAdjust="spacingAndGlyphs">0.0</text>
<line x1="467.40" y1="1074.30" x2="729.00" y2="1074.30" stroke="#000" stroke-width="1.6"/>
<line x1="531.90" y1="1074.30" x2="531.90" y2="1078.80" stroke="#000" stroke-width="1.6"/>
<line x1="669.00" y1="1074.30" x2="669.00" y2="1078.80" stroke="#000" stroke-width="1.6"/>
<rect x="489.70" y="1002.80" width="34.10" height="71.50" fill="#000"/>
<rect x="491.50" y="1004.60" width="30.50" height="69.70" fill="#9e0000"/>
<line x1="506.75" y1="1003.30" x2="506.75" y2="988.80" stroke="#000" stroke-width="1.6"/>
<line x1="498.25" y1="988.80" x2="515.25" y2="988.80" stroke="#000" stroke-width="1.6"/>
<rect x="540.90" y="947.10" width="34.00" height="127.20" fill="#000"/>
<rect x="542.70" y="948.90" width="30.40" height="125.40" fill="#00bf00"/>
<line x1="557.90" y1="947.60" x2="557.90" y2="931.80" stroke="#000" stroke-width="1.6"/>
<line x1="549.40" y1="931.80" x2="566.40" y2="931.80" stroke="#000" stroke-width="1.6"/>
<rect x="626.20" y="938.70" width="34.00" height="135.60" fill="#000"/>
<rect x="628.00" y="940.50" width="30.40" height="133.80" fill="#9e0000"/>
<line x1="643.20" y1="939.20" x2="643.20" y2="923.30" stroke="#000" stroke-width="1.6"/>
<line x1="634.70" y1="923.30" x2="651.70" y2="923.30" stroke="#000" stroke-width="1.6"/>
<rect x="677.40" y="952.90" width="33.80" height="121.40" fill="#000"/>
<rect x="679.20" y="954.70" width="30.20" height="119.60" fill="#00bf00"/>
<line x1="694.30" y1="953.40" x2="694.30" y2="939.00" stroke="#000" stroke-width="1.6"/>
<line x1="685.80" y1="939.00" x2="702.80" y2="939.00" stroke="#000" stroke-width="1.6"/>
<text x="508.02" y="1097.60" font-size="18" textLength="48.17" lengthAdjust="spacingAndGlyphs">Basal</text>
<text x="640.84" y="1097.50" font-size="18" textLength="54.99" lengthAdjust="spacingAndGlyphs">Insulin</text>
<text x="474.42" y="914.00" font-size="15.5" textLength="76.05" lengthAdjust="spacingAndGlyphs">Int. p&lt;0.05</text>
<text x="549.11" y="927.17" font-size="15.71" stroke="#000" stroke-width="0.45" textLength="8.59" lengthAdjust="spacingAndGlyphs">#</text>
<text x="557.71" y="927.17" font-size="15.71" stroke="#000" stroke-width="0.45" textLength="8.59" lengthAdjust="spacingAndGlyphs">#</text>
<text x="634.56" y="922.71" font-size="17.09" stroke="#000" stroke-width="0.5" textLength="7.08" lengthAdjust="spacingAndGlyphs">*</text>
<text x="642.56" y="922.71" font-size="17.09" stroke="#000" stroke-width="0.5" textLength="7.08" lengthAdjust="spacingAndGlyphs">*</text>
</svg></body></html>
